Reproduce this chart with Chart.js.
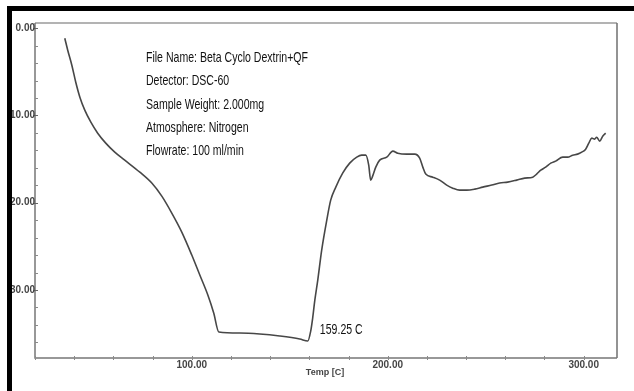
<!DOCTYPE html>
<html>
<head>
<meta charset="utf-8">
<script src="https://cdn.jsdelivr.net/npm/chart.js@4/dist/chart.umd.min.js"></script>
<style>
  html, body { margin: 0; padding: 0; background: #fff; }
  canvas { display: block; }
</style>
</head>
<body>
<canvas id="dsc" width="634" height="391"></canvas>
<script>
// DSC thermogram: heat flow vs temperature
const temps = [35.2, 36.7, 38.8, 40.8, 42.9, 45.4, 48.5, 52.0, 56.1, 60.7, 65.8, 73.5, 79.6, 84.7, 89.8, 94.9,
  100.0, 104.1, 108.2, 111.2, 113.8, 124.5, 134.7, 144.9, 155.1, 159.25, 160.7, 161.7, 162.8, 164.3, 166.3,
  168.9, 170.9, 173.5, 177.0, 180.6, 184.2, 186.7, 188.8, 190.3, 191.3, 192.3, 193.9, 195.9, 199.5, 202.6,
  205.1, 209.7, 213.8, 216.3, 217.9, 219.4, 223.0, 226.5, 230.1, 233.2, 236.7, 240.3, 244.4, 248.5, 253.1,
  257.1, 261.2, 265.8, 269.9, 274.0, 276.0, 278.1, 280.6, 283.2, 285.7, 289.3, 291.8, 294.4, 296.9, 299.0,
  301.0, 302.6, 304.1, 305.6, 306.6, 308.2, 309.7, 311.2];
const heatFlow = [-1.15, -2.52, -4.24, -6.19, -7.90, -9.39, -10.77, -12.03, -13.17, -14.20, -15.12, -16.50,
  -17.75, -19.25, -21.19, -23.37, -26.00, -28.29, -30.58, -32.65, -34.82, -34.94, -35.05, -35.28, -35.62,
  -35.85, -34.71, -33.22, -31.16, -28.87, -25.43, -21.99, -19.70, -18.21, -16.61, -15.46, -14.78, -14.55,
  -14.55, -15.69, -17.41, -16.95, -15.92, -15.12, -14.78, -14.09, -14.32, -14.43, -14.43, -14.89, -15.92,
  -16.72, -17.07, -17.41, -17.98, -18.33, -18.56, -18.56, -18.44, -18.21, -17.98, -17.75, -17.64, -17.41,
  -17.18, -17.07, -16.72, -16.27, -15.92, -15.46, -15.23, -14.78, -14.78, -14.55, -14.43, -14.20, -13.86,
  -13.17, -12.60, -12.71, -12.49, -12.94, -12.37, -12.03];

const xMajorTicks = [100, 200, 300];
const xMinorStep = 20;
const yMajorTicks = [0, -10, -20, -30];
const yMinorStep = 2;
const xAxisTitle = 'Temp [C]';
const infoLines = [
  'File Name: Beta Cyclo Dextrin+QF',
  'Detector: DSC-60',
  'Sample Weight: 2.000mg',
  'Atmosphere: Nitrogen',
  'Flowrate: 100 ml/min'
];
const peakTemp = 159.25;
const peakLabel = '159.25 C';

const X_MIN = 20, X_MAX = 317, Y_MIN = -37.8, Y_MAX = 0.6;
const narrowFont = '"Liberation Sans Narrow", "Arial Narrow", "Liberation Sans", Arial, sans-serif';

const decorPlugin = {
  id: 'decor',
  beforeDraw(chart) {
    const ctx = chart.ctx;
    ctx.save();
    ctx.fillStyle = '#fff';
    ctx.fillRect(0, 0, chart.width, chart.height);
    ctx.restore();
  },
  beforeDatasetsDraw(chart) {
    const { ctx, chartArea: a, scales: { x, y } } = chart;
    ctx.save();
    // frame
    ctx.lineWidth = 1.5;
    ctx.strokeStyle = '#9a9a9a';
    ctx.beginPath(); ctx.moveTo(a.left, a.top); ctx.lineTo(a.right, a.top); ctx.stroke();
    ctx.strokeStyle = '#6f6f6f';
    ctx.beginPath(); ctx.moveTo(a.right, a.top); ctx.lineTo(a.right, a.bottom); ctx.stroke();
    ctx.strokeStyle = '#777';
    ctx.beginPath(); ctx.moveTo(a.left, a.top); ctx.lineTo(a.left, a.bottom); ctx.lineTo(a.right, a.bottom); ctx.stroke();

    // minor ticks
    ctx.strokeStyle = '#8a8a8a';
    ctx.lineWidth = 1;
    for (let v = Math.ceil(X_MIN / xMinorStep) * xMinorStep; v <= X_MAX; v += xMinorStep) {
      const px = Math.round(x.getPixelForValue(v)) + 0.5;
      ctx.beginPath(); ctx.moveTo(px, a.bottom - 2); ctx.lineTo(px, a.bottom + 2); ctx.stroke();
    }
    for (let v = Math.ceil(Y_MIN / yMinorStep) * yMinorStep; v <= Y_MAX; v += yMinorStep) {
      const py = Math.round(y.getPixelForValue(v)) + 0.5;
      ctx.beginPath(); ctx.moveTo(a.left, py); ctx.lineTo(a.left + 3, py); ctx.stroke();
    }
    ctx.strokeStyle = '#666';
    yMajorTicks.forEach(v => {
      const py = Math.round(y.getPixelForValue(v)) + 0.5;
      ctx.beginPath(); ctx.moveTo(a.left - 2, py); ctx.lineTo(a.left + 3, py); ctx.stroke();
    });

    // tick labels
    ctx.fillStyle = '#444';
    ctx.font = 'bold 10px "Liberation Sans", Arial, sans-serif';
    ctx.textBaseline = 'middle';
    ctx.textAlign = 'center';
    xMajorTicks.forEach(v => {
      ctx.fillText(v.toFixed(2), x.getPixelForValue(v), a.bottom + 7);
    });
    ctx.textAlign = 'right';
    yMajorTicks.forEach(v => {
      ctx.fillText(v.toFixed(2), a.left, y.getPixelForValue(v));
    });

    // axis title
    ctx.font = 'bold 9px "Liberation Sans", Arial, sans-serif';
    ctx.textAlign = 'center';
    ctx.fillStyle = '#444';
    ctx.fillText(xAxisTitle, 325, a.bottom + 15);
    ctx.restore();
  },
  afterDraw(chart) {
    const { ctx, scales: { x, y } } = chart;
    ctx.save();
    ctx.fillStyle = '#111';
    ctx.textBaseline = 'middle';
    ctx.textAlign = 'left';
    ctx.font = '15px ' + narrowFont;
    const scaleX = 162 / ctx.measureText(infoLines[0]).width;
    const drawNarrow = (txt, px, py) => {
      ctx.save();
      ctx.translate(px, py);
      ctx.scale(scaleX, 1);
      ctx.fillText(txt, 0, 0);
      ctx.restore();
    };
    infoLines.forEach((line, i) => drawNarrow(line, 146, 58 + i * 23.2));

    // peak annotation
    const pi = temps.indexOf(peakTemp);
    const ppx = x.getPixelForValue(peakTemp);
    const ppy = y.getPixelForValue(heatFlow[pi]);
    drawNarrow(peakLabel, ppx + 12, ppy - 11);

    // black border bands
    ctx.fillStyle = '#000';
    ctx.fillRect(7, 6, chart.width - 7, 5);
    ctx.fillRect(7, 6, 5, chart.height - 6);
    ctx.restore();
  }
};

new Chart(document.getElementById('dsc'), {
  type: 'line',
  data: {
    datasets: [{
      data: temps.map((t, i) => ({ x: t, y: heatFlow[i] })),
      borderColor: '#474747',
      borderWidth: 1.6,
      pointRadius: 0,
      cubicInterpolationMode: 'monotone',
      fill: false
    }]
  },
  options: {
    responsive: false,
    devicePixelRatio: 1,
    animation: false,
    layout: { padding: { left: 35, top: 23, right: 17, bottom: 33 } },
    plugins: { legend: { display: false }, tooltip: { enabled: false } },
    scales: {
      x: { type: 'linear', min: X_MIN, max: X_MAX, display: false },
      y: { type: 'linear', min: Y_MIN, max: Y_MAX, display: false }
    }
  },
  plugins: [decorPlugin]
});
</script>
</body>
</html>
